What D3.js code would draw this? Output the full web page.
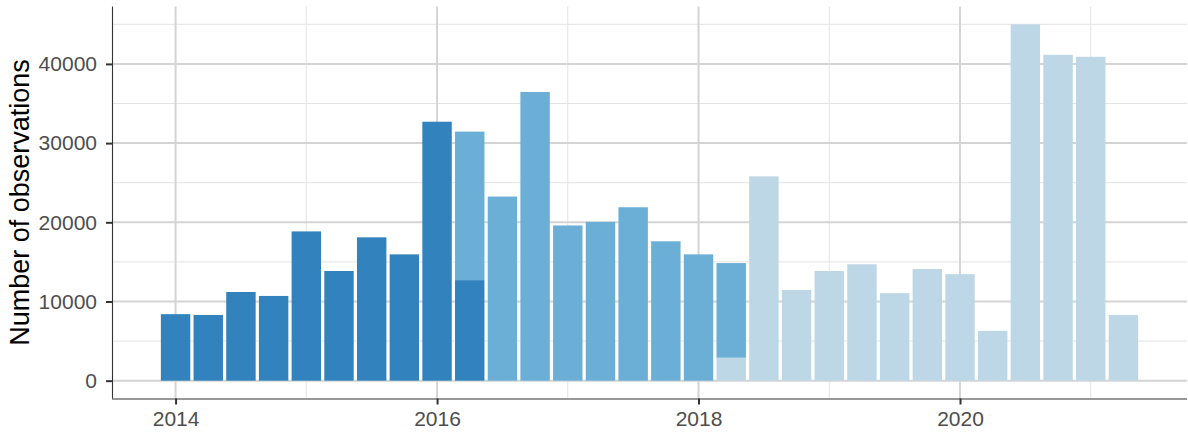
<!DOCTYPE html>
<html>
<head>
<meta charset="utf-8">
<script src="https://cdn.jsdelivr.net/npm/d3@7"></script>
<style>
  body { margin: 0; background: #fff; }
  text { font-family: "Liberation Sans", Arial, sans-serif; }
</style>
</head>
<body>
<div id="chart"></div>
<script>
const WIDTH = 1188;
const HEIGHT = 432;
const PANEL = { LEFT: 112, RIGHT: 1187, TOP: 6.5, BOTTOM: 398.5 };
const COLORS = { period1: "#3182bd", period2: "#6baed6", period3: "#bdd7e7" };

// quarters, as decimal years (2014.00 = Q1 2014)
const quarters = [
    2014.00, 2014.25, 2014.50, 2014.75, 2015.00, 2015.25, 2015.50, 2015.75,
    2016.00, 2016.25, 2016.50, 2016.75, 2017.00, 2017.25, 2017.50, 2017.75,
    2018.00, 2018.25, 2018.50, 2018.75, 2019.00, 2019.25, 2019.50, 2019.75,
    2020.00, 2020.25, 2020.50, 2020.75, 2021.00, 2021.25
];
const period1 = [
    8400, 8300, 11200, 10700, 18850, 13850, 18100, 15950,
    32700, 12700, 0, 0, 0, 0, 0, 0,
    0, 0, 0, 0, 0, 0, 0, 0,
    0, 0, 0, 0, 0, 0
];
const period2 = [
    0, 0, 0, 0, 0, 0, 0, 0,
    0, 18750, 23250, 36450, 19600, 20050, 21900, 17600,
    15950, 11950, 0, 0, 0, 0, 0, 0,
    0, 0, 0, 0, 0, 0
];
const period3 = [
    0, 0, 0, 0, 0, 0, 0, 0,
    0, 0, 0, 0, 0, 0, 0, 0,
    0, 2900, 25800, 11450, 13850, 14700, 11050, 14100,
    13450, 6300, 45000, 41150, 40900, 8300
];
const xTicks = [2014, 2016, 2018, 2020];
const xMinor = [2015, 2017, 2019, 2021];
const yTicks = [0, 10000, 20000, 30000, 40000];
const yMinor = [5000, 15000, 25000, 35000, 45000];

let svg = d3.select("#chart")
    .append("svg")
    .attr("width", WIDTH)
    .attr("height", HEIGHT);

// stack order bottom to top: period3, period1, period2
let rows = quarters.map((q, i) => ({ q: q, period1: period1[i], period2: period2[i], period3: period3[i] }));
let stacked = d3.stack().keys(["period3", "period1", "period2"])(rows);

let barW = 0.225;
let maxTotal = d3.max(rows, d => d.period1 + d.period2 + d.period3);
let xLo = d3.min(quarters) - barW / 2, xHi = d3.max(quarters) + barW / 2;
let xPad = (xHi - xLo) * 0.05;

let x = d3.scaleLinear()
    .domain([xLo - xPad, xHi + xPad])
    .range([PANEL.LEFT, PANEL.RIGHT]);
let y = d3.scaleLinear()
    .domain([-maxTotal * 0.05, maxTotal * 1.05])
    .range([PANEL.BOTTOM, PANEL.TOP]);

// grid
let grid = svg.append("g");
grid.selectAll(".hminor").data(yMinor).enter().append("line")
    .attr("x1", PANEL.LEFT).attr("x2", PANEL.RIGHT)
    .attr("y1", d => y(d)).attr("y2", d => y(d))
    .attr("stroke", "#e3e3e3").attr("stroke-width", 1);
grid.selectAll(".vminor").data(xMinor).enter().append("line")
    .attr("y1", PANEL.TOP).attr("y2", PANEL.BOTTOM)
    .attr("x1", d => x(d)).attr("x2", d => x(d))
    .attr("stroke", "#e3e3e3").attr("stroke-width", 1);
grid.selectAll(".hmajor").data(yTicks).enter().append("line")
    .attr("x1", PANEL.LEFT).attr("x2", PANEL.RIGHT)
    .attr("y1", d => y(d)).attr("y2", d => y(d))
    .attr("stroke", "#d4d4d4").attr("stroke-width", 2);
grid.selectAll(".vmajor").data(xTicks).enter().append("line")
    .attr("y1", PANEL.TOP).attr("y2", PANEL.BOTTOM)
    .attr("x1", d => x(d)).attr("x2", d => x(d))
    .attr("stroke", "#d4d4d4").attr("stroke-width", 2);

// bars
svg.append("g")
    .selectAll("g")
    .data(stacked)
    .enter()
    .append("g")
    .attr("fill", d => COLORS[d.key])
    .selectAll("rect")
    .data(d => d.filter(s => s[1] > s[0]))
    .enter()
    .append("rect")
    .attr("x", d => x(d.data.q - barW / 2))
    .attr("width", d => x(barW) - x(0))
    .attr("y", d => y(d[1]))
    .attr("height", d => y(d[0]) - y(d[1]));

// axes
let xAxis = d3.axisBottom(x).tickValues(xTicks).tickFormat(d3.format("d")).tickSize(6).tickPadding(7);
let yAxis = d3.axisLeft(y).tickValues(yTicks).tickFormat(d3.format("d")).tickSize(6).tickPadding(9);

let gx = svg.append("g")
    .attr("transform", `translate(0,${PANEL.BOTTOM})`)
    .call(xAxis);
let gy = svg.append("g")
    .attr("transform", `translate(${PANEL.LEFT},0)`)
    .call(yAxis);

[gx, gy].forEach(g => {
    g.attr("font-size", 21).attr("font-family", "Liberation Sans, Arial, sans-serif");
    g.select(".domain").attr("stroke", "#333").attr("stroke-width", 1.1);
    g.selectAll(".tick line").attr("stroke", "#333").attr("stroke-width", 2);
    g.selectAll(".tick text")
        .attr("fill", "#4d4d4d")
        .attr("font-size", 21);
});
gx.select(".domain").attr("d", `M${PANEL.LEFT},0.5H${PANEL.RIGHT}`);
gy.select(".domain").attr("d", `M0.5,${PANEL.TOP}V${PANEL.BOTTOM}`);

svg.append("text")
    .attr("transform", `translate(28.5,${(PANEL.TOP + PANEL.BOTTOM) / 2}) rotate(-90)`)
    .style("text-anchor", "middle")
    .style("font-size", "27px")
    .attr("fill", "#000")
    .text("Number of observations");
</script>
</body>
</html>
